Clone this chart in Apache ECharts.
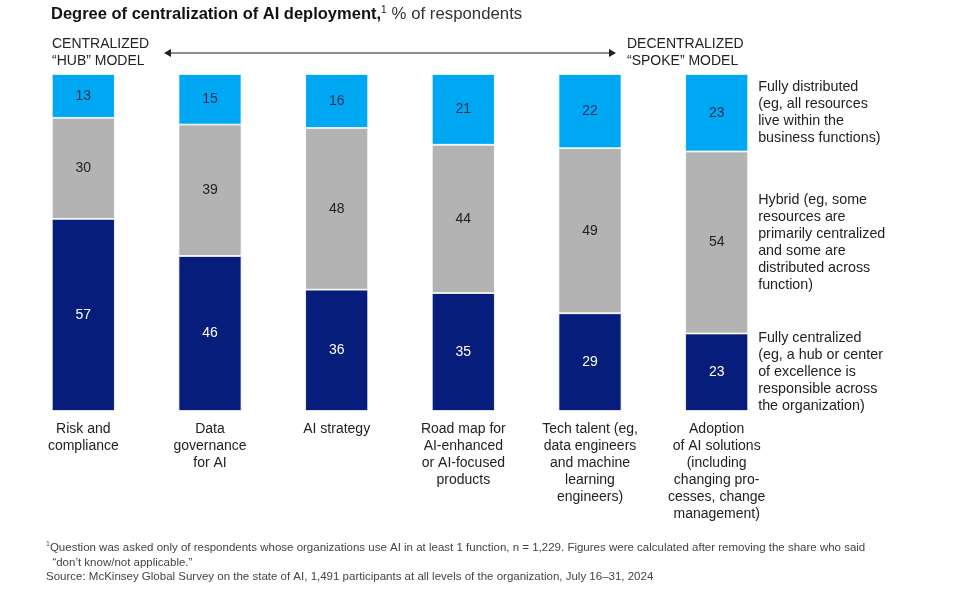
<!DOCTYPE html>
<html>
<head>
  <meta charset="utf-8">
  <script src="https://cdn.jsdelivr.net/npm/echarts@6/dist/echarts.min.js"></script>
  <title>Degree of centralization of AI deployment</title>
</head>
<body style="margin: 0; background: #fff;">
  <div id="main" style="width: 956px; height: 595px;"></div>
  <script>
    var categories = [
      'Risk and\ncompliance',
      'Data\ngovernance\nfor AI',
      'AI strategy',
      'Road map for\nAI-enhanced\nor AI-focused\nproducts',
      'Tech talent (eg,\ndata engineers\nand machine\nlearning\nengineers)',
      'Adoption\nof AI solutions\n(including\nchanging pro-\ncesses, change\nmanagement)'
    ];
    var centralized = [57, 46, 36, 35, 29, 23];
    var hybrid = [30, 39, 48, 44, 49, 54];
    var distributed = [13, 15, 16, 21, 22, 23];

    var seriesNames = [
      'Fully centralized\n(eg, a hub or center\nof excellence is\nresponsible across\nthe organization)',
      'Hybrid (eg, some\nresources are\nprimarily centralized\nand some are\ndistributed across\nfunction)',
      'Fully distributed\n(eg, all resources\nlive within the\nbusiness functions)'
    ];

    var font = '"Liberation Sans", Arial, sans-serif';

    function makeSeries(name, values, color, textColor) {
      return {
        name: name,
        type: 'bar',
        stack: 'total',
        barWidth: 63,
        data: values,
        itemStyle: { color: color, borderColor: '#fff', borderWidth: 0.8 },
        label: {
          show: true,
          position: 'inside',
          color: textColor,
          fontFamily: font,
          fontSize: 14
        }
      };
    }

    var series = [
      makeSeries(seriesNames[0], centralized, '#061d7b', '#fff'),
      makeSeries(seriesNames[1], hybrid, '#b3b3b3', '#222'),
      makeSeries(seriesNames[2], distributed, '#00a8f3', '#1b2a55')
    ];

    // invisible copy of the last bar, used only to place the descriptions on its right
    var sideLabels = seriesNames.map(function (name, k) {
      var vals = [centralized, hybrid, distributed][k];
      var last = vals.length - 1;
      return {
        type: 'bar',
        stack: 'side',
        barWidth: 63,
        barGap: '-100%',
        silent: true,
        itemStyle: { color: 'rgba(0,0,0,0)' },
        data: vals.map(function (v, i) { return i === last ? v : 0; }),
        label: {
          show: true,
          position: 'right',
          distance: 10,
          formatter: function (p) { return p.dataIndex === last ? name : ''; },
          color: '#222',
          fontFamily: font,
          fontSize: 14.3,
          lineHeight: 17,
          align: 'left'
        }
      };
    });

    var myChart = echarts.init(document.getElementById('main'));
    var option = {
      animation: false,
      backgroundColor: '#fff',
      title: {
        left: 46,
        top: 0,
        text: '{b|Degree of centralization of AI deployment,}{s|1} {n|% of respondents}',
        textStyle: {
          rich: {
            b: { fontFamily: font, fontWeight: 'bold', fontSize: 16.5, color: '#111' },
            s: { fontFamily: font, fontWeight: 'normal', fontSize: 10, color: '#111', verticalAlign: 'top', padding: [0, 0, 8, 0] },
            n: { fontFamily: font, fontWeight: 'normal', fontSize: 16.8, color: '#333' }
          }
        }
      },
      grid: { left: 20, right: 176, top: 74, bottom: 184 },
      xAxis: {
        type: 'category',
        data: categories,
        axisLine: { show: false },
        axisTick: { show: false },
        axisLabel: {
          interval: 0,
          margin: 10,
          color: '#222',
          fontFamily: font,
          fontSize: 14,
          lineHeight: 17
        }
      },
      yAxis: {
        type: 'value',
        min: 0,
        max: 100,
        show: false
      },
      series: series.concat(sideLabels),
      graphic: [
        {
          type: 'text', left: 52, top: 36,
          style: { text: 'CENTRALIZED\n“HUB” MODEL', fontFamily: font, fontSize: 14, lineHeight: 17, fill: '#222' }
        },
        {
          type: 'text', left: 627, top: 36,
          style: { text: 'DECENTRALIZED\n“SPOKE” MODEL', fontFamily: font, fontSize: 14, lineHeight: 17, fill: '#222' }
        },
        {
          type: 'line', shape: { x1: 168, y1: 53, x2: 612, y2: 53 },
          style: { stroke: '#222', lineWidth: 1.2 }
        },
        {
          type: 'polygon', shape: { points: [[164, 53], [171, 49], [171, 57]] },
          style: { fill: '#222' }
        },
        {
          type: 'polygon', shape: { points: [[616, 53], [609, 49], [609, 57]] },
          style: { fill: '#222' }
        },
        {
          type: 'text', left: 46, top: 541,
          style: {
            text: '{s|1}Question was asked only of respondents whose organizations use AI in at least 1 function, n = 1,229. Figures were calculated after removing the share who said\n  “don’t know/not applicable.”\nSource: McKinsey Global Survey on the state of AI, 1,491 participants at all levels of the organization, July 16–31, 2024',
            fontFamily: font, fontSize: 11.5, lineHeight: 14.5, fill: '#444',
            rich: { s: { fontSize: 7, verticalAlign: 'top', fill: '#444' } }
          }
        }
      ]
    };
    myChart.setOption(option);
  </script>
</body>
</html>
